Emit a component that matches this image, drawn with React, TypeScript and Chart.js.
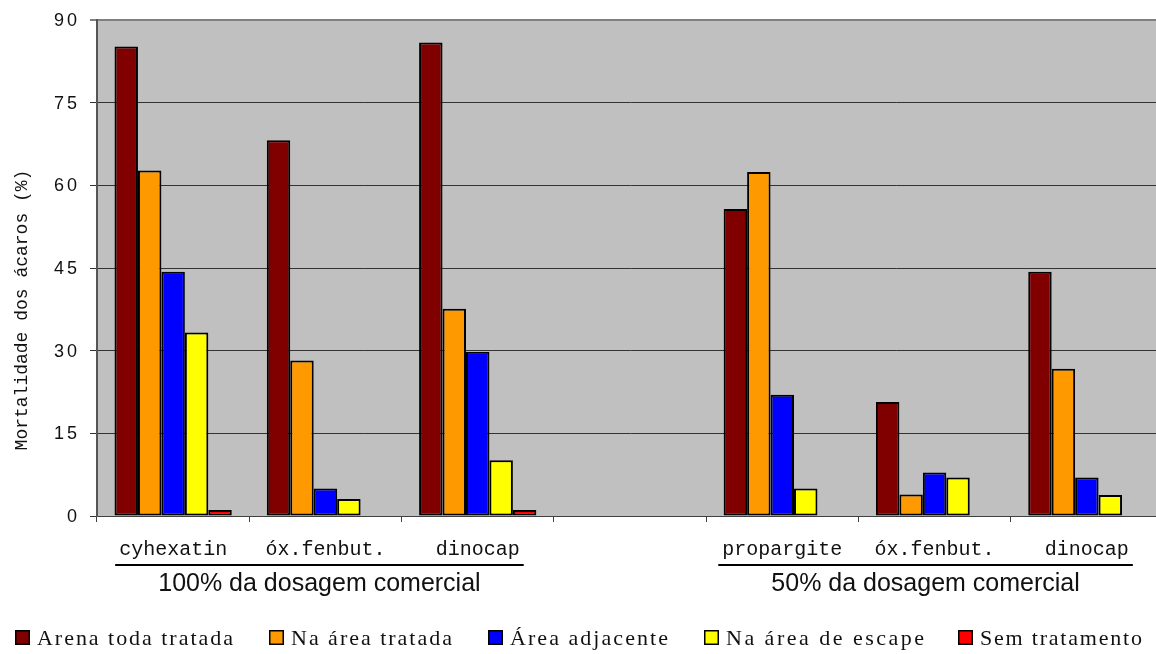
import React, { useEffect, useRef } from "react";
import { Chart, registerables } from "chart.js";

Chart.register(...registerables);

// Treatments along the x axis (the empty slot separates the two dosage groups)
const categories = ["cyhexatin", "óx.fenbut.", "dinocap", "", "propargite", "óx.fenbut.", "dinocap"];

// Mortality (%) per series
const arenaTodaTratada = [85.2, 68.2, 85.9, null, 55.7, 20.7, 44.3];
const naAreaTratada = [62.7, 28.2, 37.6, null, 62.4, 3.9, 26.7];
const areaAdjacente = [44.3, 5.0, 29.8, null, 22.0, 7.9, 7.0];
const naAreaDeEscape = [33.3, 3.1, 10.1, null, 5.0, 7.0, 3.8];
const semTratamento = [1.1, null, 1.1, null, null, null, null];

const seriesNames = ["Arena toda tratada", "Na área tratada", "Área adjacente", "Na área de escape", "Sem tratamento"];
const seriesColors = ["#800000", "#FF9900", "#0000FF", "#FFFF00", "#FF0000"];

const yTicks = [0, 15, 30, 45, 60, 75, 90];
const yTitle = "Mortalidade dos ácaros (%)";

// Dosage groups: label and the category indices they cover
const groupLabels = ["100% da dosagem comercial", "50% da dosagem comercial"];
const groupStart = [0, 4];
const groupEnd = [2, 6];

// Legend layout: left edge of each swatch and right edge of each text run
const legendSwatchX = [15, 269, 488, 704, 958];
const legendTextEnd = [233, 452, 668, 924, 1142];

const W = 1170;
const H = 654;

const decorPlugin = {
  id: "decor",
  beforeDraw(chart: any) {
    const { ctx, chartArea } = chart;
    ctx.save();
    ctx.fillStyle = "#C0C0C0";
    ctx.fillRect(chartArea.left, chartArea.top, chartArea.right - chartArea.left, chartArea.bottom - chartArea.top);
    ctx.restore();
  },
  afterDraw(chart: any) {
    const { ctx } = chart;
    const xs = chart.scales.x;
    const ys = chart.scales.y;
    ctx.save();
    ctx.fillStyle = "#111";

    // y tick labels
    ctx.font = '18px "Liberation Sans", Arial, sans-serif';
    (ctx as any).letterSpacing = "3px";
    ctx.textAlign = "right";
    ctx.textBaseline = "middle";
    yTicks.forEach((v) => {
      ctx.fillText(String(v), 80, ys.getPixelForValue(v) + 1);
    });

    // y axis title
    ctx.save();
    ctx.font = '18px "Liberation Mono", "Courier New", monospace';
    (ctx as any).letterSpacing = "0px";
    ctx.translate(22, 310);
    ctx.rotate(-Math.PI / 2);
    ctx.textAlign = "center";
    ctx.textBaseline = "middle";
    ctx.fillText(yTitle, 0, 0);
    ctx.restore();

    // category labels
    ctx.font = '20px "Liberation Mono", "Courier New", monospace';
    (ctx as any).letterSpacing = "0px";
    ctx.textAlign = "center";
    ctx.textBaseline = "alphabetic";
    const extents: { l: number; r: number }[] = [];
    categories.forEach((c, i) => {
      const x = xs.getPixelForValue(i);
      const w = ctx.measureText(c).width;
      extents.push({ l: x - w / 2, r: x + w / 2 });
      if (c) ctx.fillText(c, x, 555);
    });

    // group underline and label
    groupLabels.forEach((g, gi) => {
      const l = extents[groupStart[gi]].l - 4;
      const r = extents[groupEnd[gi]].r + 4;
      ctx.strokeStyle = "#000";
      ctx.lineWidth = 2;
      ctx.beginPath();
      ctx.moveTo(l, 565);
      ctx.lineTo(r, 565);
      ctx.stroke();
      ctx.font = '25px "Liberation Sans", Arial, sans-serif';
      ctx.textAlign = "center";
      ctx.fillText(g, (l + r) / 2, 591);
    });

    // legend: each text run is spread to span its slot
    ctx.font = '22px "Liberation Serif", "Times New Roman", serif';
    ctx.textAlign = "left";
    seriesNames.forEach((name, i) => {
      const x = legendSwatchX[i];
      ctx.fillStyle = seriesColors[i];
      ctx.fillRect(x, 630, 15, 15);
      ctx.strokeStyle = "#000";
      ctx.lineWidth = 1.5;
      ctx.strokeRect(x + 0.75, 630.75, 13.5, 13.5);
      ctx.fillStyle = "#111";
      const tx = x + 22;
      (ctx as any).letterSpacing = "0px";
      const base = ctx.measureText(name).width;
      const n = Math.max(1, name.length - 1);
      const sp = Math.max(0, (legendTextEnd[i] - tx - base) / n);
      (ctx as any).letterSpacing = sp.toFixed(2) + "px";
      ctx.fillText(name, tx, 645);
    });

    ctx.restore();
  },
};

export default function App() {
  const canvasRef = useRef<HTMLCanvasElement | null>(null);

  useEffect(() => {
    const canvas = canvasRef.current;
    if (!canvas) return;
    const series = [arenaTodaTratada, naAreaTratada, areaAdjacente, naAreaDeEscape, semTratamento];
    const chart = new Chart(canvas, {
      type: "bar",
      data: {
        labels: categories,
        datasets: series.map((d, i) => ({
          label: seriesNames[i],
          data: d,
          backgroundColor: seriesColors[i],
          borderColor: "#000",
          borderWidth: 2,
          borderSkipped: false,
          categoryPercentage: 0.77,
          barPercentage: 1,
        })),
      },
      options: {
        responsive: false,
        animation: false,
        devicePixelRatio: 1,
        layout: { padding: { left: 0, right: 7, top: 20, bottom: 0 } },
        plugins: { legend: { display: false }, tooltip: { enabled: false } },
        scales: {
          x: {
            offset: true,
            grid: {
              display: true,
              offset: true,
              drawOnChartArea: false,
              drawTicks: true,
              tickLength: 6,
              color: "#404040",
            },
            border: { display: true, color: "#404040", width: 1 },
            ticks: { display: false },
            afterFit: (s: any) => {
              s.height = H - 516;
            },
          },
          y: {
            min: 0,
            max: 90,
            ticks: { display: false, stepSize: 15 },
            grid: {
              drawTicks: true,
              tickLength: 7,
              color: (c: any) => (c.tick && c.tick.value === 90 ? "#808080" : "#333333"),
              lineWidth: (c: any) => (c.tick && c.tick.value === 90 ? 2 : 1),
            },
            border: { display: true, color: "#555555", width: 2 },
            afterFit: (s: any) => {
              s.width = 97;
            },
          },
        },
      },
      plugins: [decorPlugin],
    });
    return () => chart.destroy();
  }, []);

  return (
    <div style={{ position: "absolute", left: 0, top: 0, width: 1156, height: 654, overflow: "hidden", background: "#fff" }}>
      <canvas ref={canvasRef} width={W} height={H} style={{ width: W, height: H, display: "block" }} />
    </div>
  );
}
